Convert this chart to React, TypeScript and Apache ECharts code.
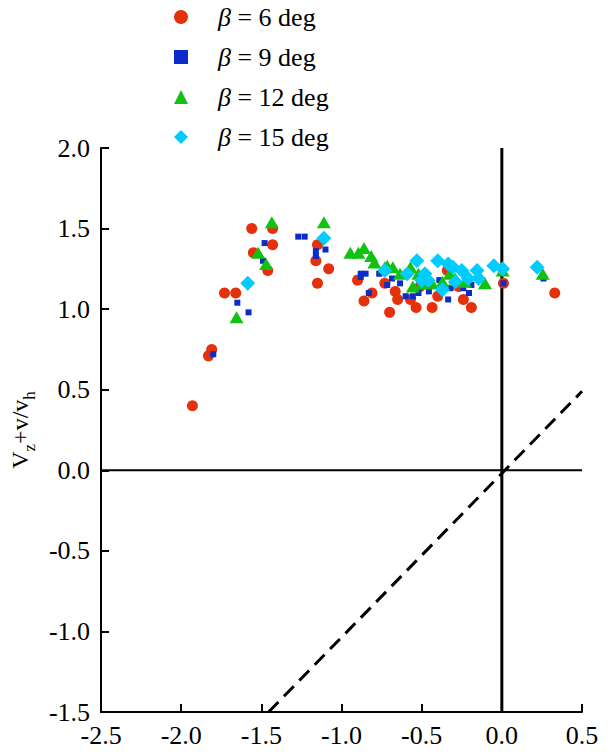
import React, { useEffect, useRef } from "react";
import * as echarts from "echarts";

const xTicks = { min: -2.5, max: 0.5, step: 0.5 };
const yTicks = { min: -1.5, max: 2.0, step: 0.5 };

const seriesNames = ["β = 6 deg", "β = 9 deg", "β = 12 deg", "β = 15 deg"];

const beta6: [number, number][] = [
  [-1.93, 0.40], [-1.81, 0.75], [-1.83, 0.71], [-1.73, 1.10], [-1.66, 1.10],
  [-1.56, 1.50], [-1.43, 1.50], [-1.43, 1.40], [-1.55, 1.35], [-1.46, 1.24],
  [-1.15, 1.40], [-1.16, 1.30], [-1.08, 1.25], [-1.15, 1.16], [-0.90, 1.18],
  [-0.73, 1.16], [-0.81, 1.10], [-0.86, 1.05], [-0.70, 0.98], [-0.665, 1.11],
  [-0.65, 1.06], [-0.57, 1.06], [-0.535, 1.01], [-0.435, 1.01], [-0.40, 1.08],
  [-0.24, 1.06], [-0.19, 1.01], [-0.34, 1.24], [-0.27, 1.14], [0.01, 1.16],
  [0.33, 1.10], [-0.51, 1.14],
];

const beta9: [number, number][] = [
  [-1.80, 0.72], [-1.65, 1.04], [-1.58, 0.98], [-1.48, 1.41], [-1.49, 1.30],
  [-1.27, 1.45], [-1.23, 1.45], [-1.16, 1.36], [-1.16, 1.33], [-1.10, 1.37],
  [-0.88, 1.22], [-0.85, 1.22], [-0.88, 1.20], [-0.765, 1.22], [-0.715, 1.15],
  [-0.83, 1.10], [-0.685, 1.19], [-0.635, 1.16], [-0.60, 1.08], [-0.555, 1.08],
  [-0.52, 1.10], [-0.455, 1.11], [-0.39, 1.18], [-0.335, 1.06], [-0.32, 1.13],
  [-0.24, 1.13], [-0.205, 1.10], [-0.19, 1.15], [0.01, 1.16], [0.26, 1.19],
];

const beta12: [number, number][] = [
  [-1.655, 0.95], [-1.435, 1.54], [-1.52, 1.35], [-1.47, 1.28], [-1.11, 1.54],
  [-0.945, 1.35], [-0.895, 1.35], [-0.86, 1.38], [-0.815, 1.33], [-0.795, 1.29],
  [-0.73, 1.26], [-0.715, 1.27], [-0.68, 1.26], [-0.57, 1.26], [-0.635, 1.22],
  [-0.555, 1.14], [-0.50, 1.16], [-0.45, 1.16], [-0.37, 1.17], [-0.325, 1.22],
  [-0.29, 1.19], [-0.23, 1.17], [-0.105, 1.16], [0.005, 1.24], [0.255, 1.22],
  [-0.52, 1.22], [-0.435, 1.16],
];

const beta15: [number, number][] = [
  [-1.585, 1.16], [-1.11, 1.44], [-0.73, 1.24], [-0.59, 1.22], [-0.53, 1.30],
  [-0.48, 1.22], [-0.46, 1.18], [-0.40, 1.30], [-0.335, 1.28], [-0.305, 1.26],
  [-0.25, 1.24], [-0.29, 1.17], [-0.21, 1.19], [-0.155, 1.24], [-0.145, 1.19],
  [-0.37, 1.12], [-0.50, 1.18], [-0.05, 1.27], [0.005, 1.25], [0.22, 1.26],
];

const zeroVertical: [number, number][] = [[0, -1.5], [0, 2.0]];
const zeroHorizontal: [number, number][] = [[-2.5, 0], [0.5, 0]];
const diagonal: [number, number][] = [[-1.455, -1.5], [0.5, 0.49]];

const FONT = "'Liberation Serif', 'Times New Roman', Times, serif";

export default function App() {
  const ref = useRef<HTMLDivElement>(null);
  useEffect(() => {
    if (!ref.current) return;
    const chart = echarts.init(ref.current, undefined, { renderer: "svg" });
    const scatterCommon = { type: "scatter" as const, z: 5 };
    chart.setOption({
      animation: false,
      backgroundColor: "#ffffff",
      grid: { left: 100, right: 32, top: 148, bottom: 43, containLabel: false },
      legend: {
        orient: "vertical",
        left: 169,
        top: -1,
        itemWidth: 14,
        itemHeight: 14,
        itemGap: 14,
        data: [
          { name: seriesNames[0], icon: "circle" },
          { name: seriesNames[1], icon: "rect" },
          { name: seriesNames[2], icon: "triangle" },
          { name: seriesNames[3], icon: "diamond" },
        ],
        formatter: (n: string) => "{g|β}{t|" + n.slice(1) + "}",
        textStyle: {
          fontFamily: FONT,
          fontSize: 26,
          color: "#000",
          padding: [0, 0, 0, 25],
          rich: {
            g: { fontFamily: FONT, fontSize: 26, fontStyle: "italic", color: "#000", lineHeight: 26 },
            t: { fontFamily: FONT, fontSize: 26, color: "#000", lineHeight: 26 },
          },
        },
      },
      xAxis: {
        type: "value",
        min: xTicks.min,
        max: xTicks.max,
        interval: xTicks.step,
        splitLine: { show: false },
        axisLine: { show: true, onZero: false, lineStyle: { color: "#000", width: 2 } },
        axisTick: { show: true, inside: true, length: 8, lineStyle: { color: "#000", width: 2 } },
        axisLabel: {
          color: "#000",
          fontFamily: FONT,
          fontSize: 26,
          margin: 10,
          showMinLabel: true,
          showMaxLabel: true,
          formatter: (v: number) => v.toFixed(1),
        },
      },
      yAxis: {
        type: "value",
        min: yTicks.min,
        max: yTicks.max,
        interval: yTicks.step,
        splitLine: { show: false },
        axisLine: { show: true, onZero: false, lineStyle: { color: "#000", width: 2 } },
        axisTick: { show: true, inside: true, length: 8, lineStyle: { color: "#000", width: 2 } },
        axisLabel: {
          color: "#000",
          fontFamily: FONT,
          fontSize: 26,
          margin: 11,
          showMinLabel: true,
          showMaxLabel: true,
          formatter: (v: number) => v.toFixed(1),
        },
        name: "{a|V}{s|z}{a|+v/v}{s|h}",
        nameLocation: "middle",
        nameGap: 58,
        nameRotate: 90,
        nameTextStyle: {
          color: "#000",
          rich: {
            a: { fontFamily: FONT, fontSize: 24, lineHeight: 30, verticalAlign: "top", color: "#000" },
            s: { fontFamily: FONT, fontSize: 17, lineHeight: 17, verticalAlign: "bottom", color: "#000" },
          },
        },
      },
      series: [
        {
          type: "line",
          data: zeroVertical,
          symbol: "none",
          silent: true,
          lineStyle: { color: "#000", width: 3 },
          z: 2,
        },
        {
          type: "line",
          data: zeroHorizontal,
          symbol: "none",
          silent: true,
          lineStyle: { color: "#000", width: 2 },
          z: 2,
        },
        {
          type: "line",
          data: diagonal,
          symbol: "none",
          silent: true,
          lineStyle: { color: "#000", width: 3, type: [14, 8] },
          z: 2,
        },
        {
          ...scatterCommon,
          name: seriesNames[0],
          data: beta6,
          symbol: "circle",
          symbolSize: 11,
          itemStyle: { color: "#E5300C", opacity: 1 },
        },
        {
          ...scatterCommon,
          name: seriesNames[1],
          data: beta9,
          symbol: "rect",
          symbolSize: 6,
          itemStyle: { color: "#0A2CC8", opacity: 1 },
        },
        {
          ...scatterCommon,
          name: seriesNames[2],
          data: beta12,
          symbol: "triangle",
          symbolSize: [14, 12],
          itemStyle: { color: "#12C212", opacity: 1 },
        },
        {
          ...scatterCommon,
          name: seriesNames[3],
          data: beta15,
          symbol: "diamond",
          symbolSize: 15,
          itemStyle: { color: "#00CCFF", opacity: 1 },
        },
      ],
    });
    return () => chart.dispose();
  }, []);
  return (
    <div
      ref={ref}
      style={{ position: "absolute", left: 0, top: 0, width: 614, height: 755 }}
    />
  );
}
